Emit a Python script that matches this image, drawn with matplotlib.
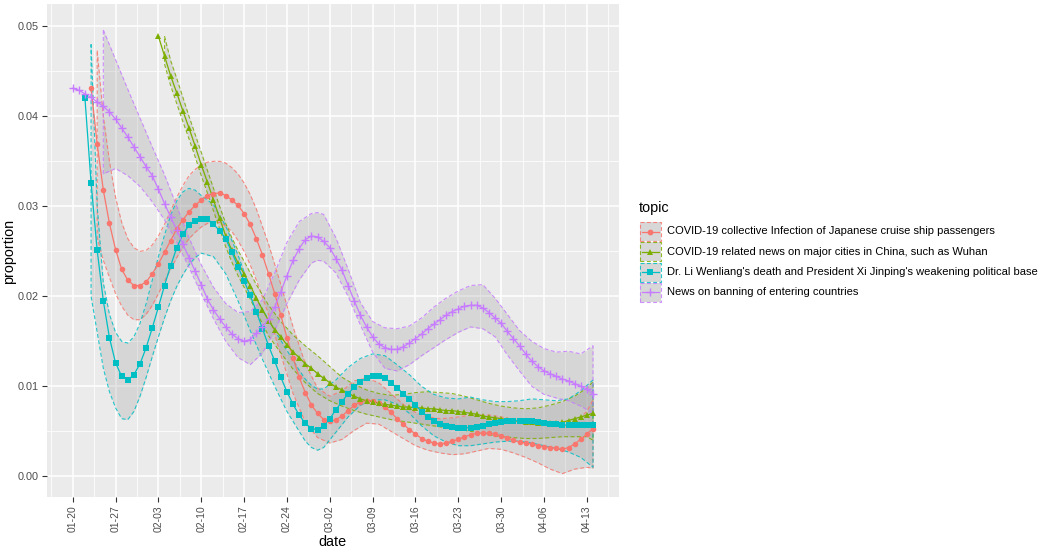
import numpy as np
import matplotlib
matplotlib.use("Agg")
import matplotlib.pyplot as plt
from matplotlib.patches import Rectangle
from matplotlib.lines import Line2D

plt.rcParams["font.family"] = ["Liberation Sans", "DejaVu Sans"]

W, H = 1041, 551

# ---- data (x = days since 01-20) ----
tick_days = [0, 7, 14, 21, 28, 35, 42, 49, 56, 63, 70, 77, 84]
tick_labels = ["01-20", "01-27", "02-03", "02-10", "02-17", "02-24", "03-02",
               "03-09", "03-16", "03-23", "03-30", "04-06", "04-13"]

topics = [
    "COVID-19 collective Infection of Japanese cruise ship passengers",
    "COVID-19 related news on major cities in China, such as Wuhan",
    "Dr. Li Wenliang's death and President Xi Jinping's weakening political base",
    "News on banning of entering countries",
]
colors = ["#F8766D", "#7CAE00", "#00BFC4", "#C77CFF"]
markers = ["o", "^", "s", "+"]

red_start = 3
red_mean = [0.0431, 0.0369, 0.0318, 0.0281, 0.0252, 0.0230, 0.0218, 0.0212, 0.0212, 0.0216,
            0.0225, 0.0236, 0.0249, 0.0262, 0.0275, 0.0285, 0.0294, 0.0301, 0.0307, 0.0312,
            0.0314, 0.0315, 0.0312, 0.0307, 0.0301, 0.0292, 0.0280, 0.0264, 0.0246, 0.0225,
            0.0203, 0.0179, 0.0154, 0.0132, 0.0110, 0.0093, 0.0079, 0.0070, 0.0063, 0.0061,
            0.0063, 0.0067, 0.0073, 0.0079, 0.0083, 0.0084, 0.0084, 0.0081, 0.0077, 0.0071,
            0.0064, 0.0058, 0.0052, 0.0047, 0.0042, 0.0039, 0.0037, 0.0036, 0.0037, 0.0039,
            0.0041, 0.0044, 0.0046, 0.0048, 0.0048, 0.0048, 0.0047, 0.0045, 0.0043, 0.0040,
            0.0038, 0.0037, 0.0036, 0.0034, 0.0033, 0.0032, 0.0031, 0.0030, 0.0032, 0.0036,
            0.0041, 0.0047, 0.0053]
red_band_days = list(range(4, 31)) + list(range(32, 85, 2)) + [85]
red_hi = [0.0473, 0.0400, 0.0350, 0.0310, 0.0282, 0.0264, 0.0254, 0.0250, 0.0251, 0.0257,
          0.0267, 0.0280, 0.0295, 0.0310, 0.0323, 0.0334, 0.0341, 0.0346, 0.0349, 0.0350,
          0.0350, 0.0348, 0.0343, 0.0336, 0.0326, 0.0313, 0.0297,
          0.0258, 0.0213, 0.0166, 0.0125, 0.0098, 0.0089, 0.0095, 0.0106, 0.0109, 0.0104,
          0.0092, 0.0080, 0.0071, 0.0066, 0.0064, 0.0065, 0.0067, 0.0068, 0.0068, 0.0066,
          0.0063, 0.0061, 0.0059, 0.0056, 0.0055, 0.0060, 0.0072, 0.0085]
red_lo = [0.0265, 0.0240, 0.0221, 0.0203, 0.0189, 0.0179, 0.0174, 0.0174, 0.0180, 0.0190,
          0.0203, 0.0217, 0.0230, 0.0243, 0.0255, 0.0264, 0.0271, 0.0277, 0.0281, 0.0283,
          0.0282, 0.0278, 0.0272, 0.0262, 0.0250, 0.0235, 0.0218,
          0.0180, 0.0135, 0.0092, 0.0060, 0.0043, 0.0037, 0.0041, 0.0051, 0.0059, 0.0058,
          0.0050, 0.0042, 0.0034, 0.0029, 0.0026, 0.0024, 0.0025, 0.0028, 0.0031, 0.0030,
          0.0026, 0.0021, 0.0015, 0.0008, 0.0003, 0.0008, 0.0010, 0.0009]

green_start = 14
green_mean = [0.0489, 0.0467, 0.0445, 0.0426, 0.0406, 0.0387, 0.0367, 0.0346, 0.0327, 0.0307,
              0.0287, 0.0267, 0.0251, 0.0237, 0.0225, 0.0212, 0.0198, 0.0185, 0.0173, 0.0163,
              0.0155, 0.0146, 0.0138, 0.0132, 0.0125, 0.0120, 0.0114, 0.0109, 0.0104, 0.0099,
              0.0096, 0.0092, 0.0089, 0.0086, 0.0084, 0.0083, 0.0081, 0.0080, 0.0079, 0.0078,
              0.0077, 0.0077, 0.0076, 0.0076, 0.0075, 0.0075, 0.0074, 0.0073, 0.0073, 0.0072,
              0.0071, 0.0070, 0.0069, 0.0067, 0.0066, 0.0065, 0.0064, 0.0063, 0.0062, 0.0061,
              0.0060, 0.0060, 0.0059, 0.0059, 0.0059, 0.0059, 0.0060, 0.0062, 0.0064, 0.0066,
              0.0068, 0.0070]
green_band_days = list(range(15, 31)) + list(range(32, 85, 2)) + [85]
green_hi = [0.0489, 0.0462, 0.0442, 0.0421, 0.0400, 0.0380, 0.0360, 0.0340, 0.0320, 0.0300,
            0.0281, 0.0265, 0.0251, 0.0239, 0.0226, 0.0213,
            0.0190, 0.0172, 0.0157, 0.0145, 0.0134, 0.0122, 0.0110, 0.0102, 0.0096, 0.0092,
            0.0090, 0.0091, 0.0093, 0.0094, 0.0093, 0.0092, 0.0089, 0.0085, 0.0081, 0.0078,
            0.0076, 0.0075, 0.0076, 0.0079, 0.0083, 0.0089, 0.0098, 0.0105]
green_lo = [0.0458, 0.0434, 0.0414, 0.0394, 0.0375, 0.0355, 0.0334, 0.0315, 0.0295, 0.0275,
            0.0255, 0.0238, 0.0223, 0.0210, 0.0197, 0.0183,
            0.0156, 0.0137, 0.0119, 0.0104, 0.0092, 0.0084, 0.0078, 0.0073, 0.0069, 0.0066,
            0.0063, 0.0061, 0.0059, 0.0057, 0.0055, 0.0053, 0.0051, 0.0049, 0.0046, 0.0044,
            0.0043, 0.0042, 0.0042, 0.0043, 0.0044, 0.0044, 0.0044, 0.0040]

cyan_start = 2
cyan_mean = [0.0420, 0.0326, 0.0251, 0.0195, 0.0154, 0.0126, 0.0111, 0.0107, 0.0113, 0.0125,
             0.0143, 0.0165, 0.0188, 0.0212, 0.0234, 0.0254, 0.0269, 0.0279, 0.0284, 0.0286,
             0.0286, 0.0280, 0.0273, 0.0264, 0.0249, 0.0233, 0.0217, 0.0201, 0.0183, 0.0164,
             0.0145, 0.0128, 0.0110, 0.0094, 0.0080, 0.0068, 0.0059, 0.0053, 0.0052, 0.0056,
             0.0064, 0.0074, 0.0083, 0.0092, 0.0099, 0.0105, 0.0109, 0.0111, 0.0111, 0.0109,
             0.0104, 0.0098, 0.0092, 0.0086, 0.0079, 0.0072, 0.0066, 0.0061, 0.0058, 0.0056,
             0.0055, 0.0054, 0.0054, 0.0054, 0.0055, 0.0056, 0.0058, 0.0059, 0.0060, 0.0061,
             0.0062, 0.0062, 0.0062, 0.0061, 0.0060, 0.0059, 0.0058, 0.0058, 0.0057, 0.0057,
             0.0057, 0.0057, 0.0057, 0.0057]
cyan_band_days = (list(range(3, 22)) + list(range(23, 36, 2)) + [37, 38, 39, 40, 41]
                  + list(range(43, 86, 2)))
cyan_hi = [0.0480, 0.0300, 0.0215, 0.0180, 0.0160, 0.0150, 0.0148, 0.0155, 0.0170, 0.0192,
           0.0218, 0.0244, 0.0268, 0.0290, 0.0306, 0.0316, 0.0320, 0.0318, 0.0312,
           0.0302, 0.0278, 0.0246, 0.0208, 0.0186, 0.0162, 0.0140,
           0.0118, 0.0108, 0.0101, 0.0097, 0.0097,
           0.0107, 0.0121, 0.0131, 0.0136, 0.0134, 0.0124, 0.0113, 0.0100, 0.0091, 0.0087,
           0.0086, 0.0088, 0.0085, 0.0083, 0.0083, 0.0084, 0.0086, 0.0085, 0.0084, 0.0086,
           0.0095, 0.0107]
cyan_lo = [0.0200, 0.0160, 0.0120, 0.0094, 0.0076, 0.0064, 0.0063, 0.0072, 0.0089, 0.0110,
           0.0133, 0.0155, 0.0176, 0.0195, 0.0211, 0.0224, 0.0235, 0.0243, 0.0248,
           0.0244, 0.0225, 0.0195, 0.0162, 0.0130, 0.0100, 0.0072,
           0.0050, 0.0039, 0.0032, 0.0029, 0.0032,
           0.0049, 0.0066, 0.0079, 0.0085, 0.0085, 0.0080, 0.0070, 0.0056, 0.0045, 0.0038,
           0.0034, 0.0034, 0.0036, 0.0038, 0.0039, 0.0039, 0.0037, 0.0034, 0.0031, 0.0027,
           0.0021, 0.0010]

purple_start = 0
purple_mean = [0.0431, 0.0429, 0.0425, 0.0421, 0.0416, 0.0411, 0.0405, 0.0397, 0.0387, 0.0377,
               0.0366, 0.0355, 0.0344, 0.0334, 0.0319, 0.0303, 0.0288, 0.0274, 0.0258, 0.0243,
               0.0228, 0.0213, 0.0197, 0.0185, 0.0175, 0.0166, 0.0158, 0.0153, 0.0150, 0.0152,
               0.0159, 0.0166, 0.0175, 0.0188, 0.0205, 0.0223, 0.0240, 0.0253, 0.0263, 0.0267,
               0.0266, 0.0261, 0.0254, 0.0242, 0.0229, 0.0212, 0.0195, 0.0179, 0.0166, 0.0155,
               0.0147, 0.0143, 0.0141, 0.0141, 0.0144, 0.0148, 0.0153, 0.0158, 0.0164, 0.0169,
               0.0174, 0.0179, 0.0183, 0.0186, 0.0189, 0.0190, 0.0190, 0.0187, 0.0182, 0.0176,
               0.0170, 0.0161, 0.0153, 0.0145, 0.0136, 0.0128, 0.0122, 0.0117, 0.0114, 0.0111,
               0.0108, 0.0106, 0.0103, 0.0100, 0.0097, 0.0092]
purple_band_days = (list(range(5, 39, 2)) + [39, 40, 41] + list(range(43, 86, 2)))
purple_hi = [0.0496, 0.0463, 0.0430, 0.0398, 0.0366, 0.0335, 0.0300, 0.0265, 0.0235, 0.0210,
             0.0192, 0.0182, 0.0183, 0.0196, 0.0226, 0.0260, 0.0283,
             0.0292, 0.0293, 0.0291,
             0.0265, 0.0230, 0.0193, 0.0172, 0.0165, 0.0164, 0.0167, 0.0176, 0.0188, 0.0198,
             0.0206, 0.0212, 0.0213, 0.0198, 0.0180, 0.0162, 0.0150, 0.0142, 0.0138, 0.0139,
             0.0136, 0.0145]
purple_lo = [0.0336, 0.0342, 0.0334, 0.0322, 0.0305, 0.0285, 0.0260, 0.0232, 0.0203, 0.0175,
             0.0150, 0.0132, 0.0124, 0.0137, 0.0162, 0.0192, 0.0218,
             0.0237, 0.0240, 0.0239,
             0.0226, 0.0200, 0.0168, 0.0138, 0.0120, 0.0117, 0.0124, 0.0134, 0.0143, 0.0152,
             0.0160, 0.0166, 0.0164, 0.0155, 0.0135, 0.0117, 0.0100, 0.0091, 0.0087, 0.0084,
             0.0078, 0.0070]

series = [
    (red_start, red_mean, red_band_days, red_lo, red_hi),
    (green_start, green_mean, green_band_days, green_lo, green_hi),
    (cyan_start, cyan_mean, cyan_band_days, cyan_lo, cyan_hi),
    (purple_start, purple_mean, purple_band_days, purple_lo, purple_hi),
]

# ---- figure ----
fig = plt.figure(figsize=(W / 100, H / 100), dpi=100)
fig.patch.set_facecolor("white")
ax = fig.add_axes([46.7 / W, 1 - 497 / H, (619 - 46.7) / W, (497 - 4) / H])
ax.set_facecolor("#EBEBEB")

dash = (0, (3.5, 2.2))
for i, (start, mean, bdays, lo, hi) in enumerate(series):
    bd = np.array(bdays, dtype=float)
    ax.fill_between(bd, lo, hi, color="#999999", alpha=0.25, lw=0, zorder=2)
    px = np.concatenate([bd, bd[::-1], bd[:1]])
    py = np.concatenate([hi, lo[::-1], hi[:1]])
    ax.plot(px, py, color=colors[i], lw=0.8, ls=dash, alpha=0.85, zorder=3)

for i, (start, mean, bdays, lo, hi) in enumerate(series):
    x = np.arange(start, start + len(mean))
    ax.plot(x, mean, color=colors[i], lw=0.9, zorder=4)
    if markers[i] == "+":
        ax.plot(x, mean, ls="none", marker="+", ms=6, mew=1.0, color=colors[i], zorder=5)
    else:
        ms = 4.6 if markers[i] == "^" else 4.0
        ax.plot(x, mean, ls="none", marker=markers[i], ms=ms, mew=0, color=colors[i], zorder=5)

ax.set_xlim(-4.25, 89.25)
ax.set_ylim(-0.0023, 0.05248)
ax.set_xticks(tick_days)
ax.set_xticklabels(tick_labels, rotation=90, va="top", ha="center")
ax.set_xticks([d + 3.5 for d in [-7] + tick_days], minor=True)
ax.set_yticks([0.00, 0.01, 0.02, 0.03, 0.04, 0.05])
ax.set_yticklabels(["0.00", "0.01", "0.02", "0.03", "0.04", "0.05"])
ax.set_yticks([0.005, 0.015, 0.025, 0.035, 0.045], minor=True)
ax.grid(which="major", color="white", lw=1.1, zorder=0)
ax.grid(which="minor", color="white", lw=0.55, zorder=0)
ax.set_axisbelow(True)
for s in ax.spines.values():
    s.set_visible(False)
ax.tick_params(which="major", length=3.5, width=0.8, color="#333333",
               labelcolor="#4D4D4D", pad=2.5)
ax.tick_params(axis="x", which="major", labelsize=7.5)
ax.tick_params(axis="y", which="major", labelsize=7.8)
ax.tick_params(which="minor", length=0)


def fx(p):
    return p / W


def fy(p):
    return 1 - p / H


# axis titles
fig.text(fx(332), fy(542), "date", fontsize=10.4, ha="center", va="center")
fig.text(fx(9), fy(251), "proportion", fontsize=10.4, ha="center", va="center",
         rotation=90)

# ---- legend drawn in figure pixels ----
fig.text(fx(639), fy(208), "topic", fontsize=10.4, va="center", ha="left")
for i, label in enumerate(topics):
    cy = 231.5 + 20.3 * i
    fig.add_artist(Rectangle((fx(639.5), fy(cy + 9.5)), 21 / W, 19 / H,
                             transform=fig.transFigure, facecolor="#F2F2F2",
                             edgecolor="none"))
    fig.add_artist(Rectangle((fx(639.5), fy(cy + 9.5)), 21 / W, 19 / H,
                             transform=fig.transFigure, facecolor="#999999",
                             alpha=0.3, edgecolor="none"))
    fig.add_artist(Rectangle((fx(639.5), fy(cy + 9.5)), 21 / W, 19 / H,
                             transform=fig.transFigure, facecolor="none",
                             edgecolor=colors[i], lw=0.8, ls=dash, alpha=0.85))
    fig.add_artist(Line2D([fx(641.5), fx(658.5)], [fy(cy), fy(cy)],
                          transform=fig.transFigure, color=colors[i], lw=0.9))
    if markers[i] == "+":
        fig.add_artist(Line2D([fx(650)], [fy(cy)], transform=fig.transFigure, ls="none",
                              marker="+", ms=6, mew=1.0, color=colors[i]))
    else:
        fig.add_artist(Line2D([fx(650)], [fy(cy)], transform=fig.transFigure, ls="none",
                              marker=markers[i], ms=4.2, mew=0, color=colors[i]))
    fig.text(fx(667), fy(cy), label, fontsize=8.0, va="center", ha="left")

fig.savefig("out.png", dpi=100)
